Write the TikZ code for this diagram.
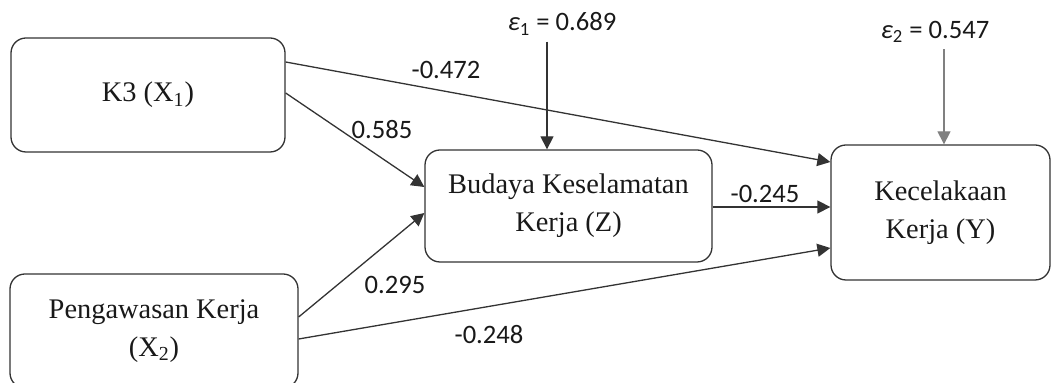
\documentclass[tikz,border=0pt]{standalone}
\usepackage{fontspec}
\setmainfont{Liberation Serif}
\newfontfamily\numfont{Carlito}
\usepackage{tikz}
\usetikzlibrary{arrows.meta,positioning,calc}

\begin{document}
\begin{tikzpicture} [
  x=0.5pt, y=-0.5pt,
  var node/.style= {draw=black!80, line width=0.65pt, rounded corners=7.5pt, align=center,
    text=black!90, inner sep=0pt, font=\fontsize{14.2}{19}\selectfont},
  coef/.style= {inner sep=0pt, text=black!90, font=\numfont\fontsize{13.3}{16}\selectfont},
  path arrow/.style={draw=black!80, line width=0.65pt, -{Triangle[length=6.5pt,width=6.5pt]}}
]
\useasboundingbox (0,0) rectangle (1055,383);

% variables
\node (k3) [var node, minimum width=137pt, minimum height=57pt] at (148,95) {K3 (X\textsubscript{1})};
\node (pengawasan) [var node, minimum width=144pt, minimum height=57pt] at (154,331) {Pengawasan Kerja\\(X\textsubscript{2})};
\node (budaya) [var node, minimum width=143.5pt, minimum height=56pt] at (568.5,206) {Budaya Keselamatan\\Kerja (Z)};
\node (kecelakaan) [var node, minimum width=109.5pt, minimum height=67.5pt] at (940.5,212.5) {Kecelakaan\\Kerja (Y)};

% residuals
\node (eps1) [coef] at (562,24) {{\itshape ε}\textsubscript{1} = 0.689};
\node (eps2) [coef] at (935,32) {{\itshape ε}\textsubscript{2} = 0.547};

% paths
\draw [path arrow] ([yshift=16.5pt]k3.east) -- ([yshift=25.25pt]kecelakaan.west);
\draw [path arrow] ([yshift=1pt]k3.east) -- ([yshift=9.5pt]budaya.west);
\draw [path arrow] ([yshift=7pt]pengawasan.east) -- ([yshift=-3.5pt]budaya.west);
\draw [path arrow] ([yshift=-4pt]pengawasan.east) -- ([yshift=-17.75pt]kecelakaan.west);
\draw [path arrow] ([yshift=-0.5pt]budaya.east) -- ([yshift=-0.5pt]budaya.east -| kecelakaan.west);
\draw [path arrow] ([xshift=-7.5pt,yshift=-3pt]eps1.south) -- ([xshift=-7.5pt]eps1.south |- budaya.north);
\draw [path arrow, draw=black!50] ([xshift=4.5pt,yshift=-3pt]eps2.south) -- ([xshift=4.5pt]eps2.south |- kecelakaan.north);

% coefficients
\node (c1) [coef] at (446,70) {-0.472};
\node (c2) [coef] at (382,130) {0.585};
\node (c3) [coef] at (395,285) {0.295};
\node (c4) [coef] at (489,335) {-0.248};
\node (c5) [coef] at (765,194) {-0.245};
\end{tikzpicture}
\end{document}
